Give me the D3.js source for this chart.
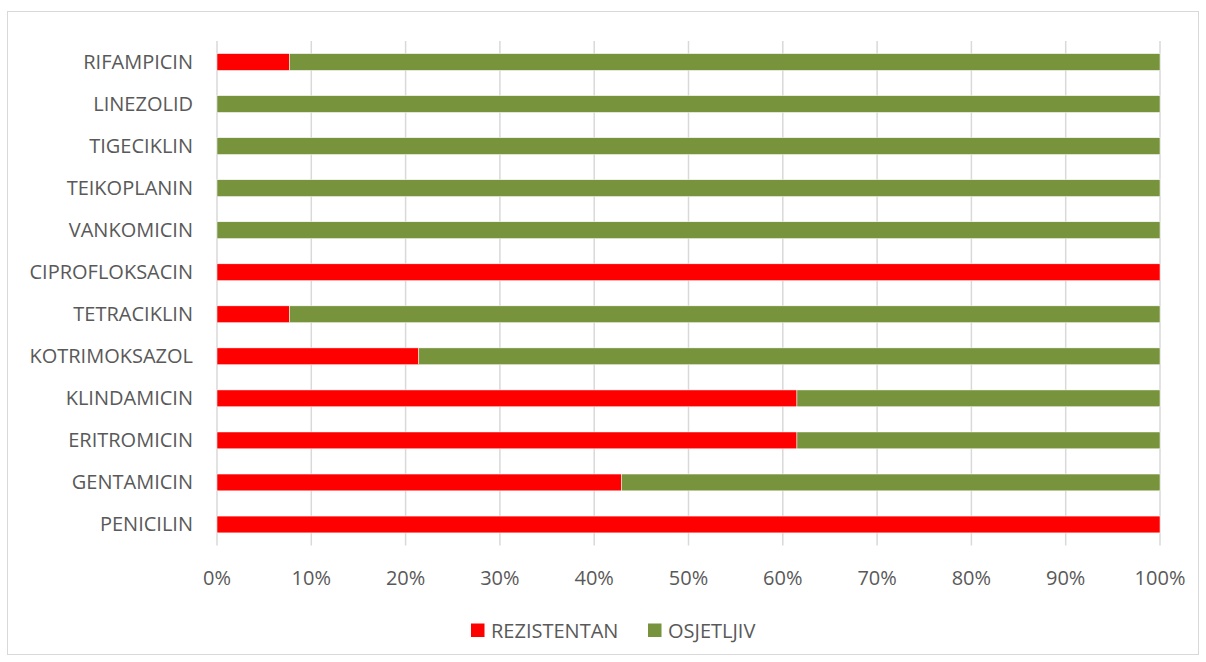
<!DOCTYPE html>
<html><head><meta charset="utf-8">
<script src="https://cdn.jsdelivr.net/npm/d3@7"></script>
<style>body{margin:0;background:#fff;} text{font-family:"Open Sans","Noto Sans",sans-serif;fill:#595959;}</style>
</head><body>
<svg id="c" width="1206" height="662"></svg>
<script>
const categories = ["RIFAMPICIN","LINEZOLID","TIGECIKLIN","TEIKOPLANIN","VANKOMICIN","CIPROFLOKSACIN","TETRACIKLIN","KOTRIMOKSAZOL","KLINDAMICIN","ERITROMICIN","GENTAMICIN","PENICILIN"];
const rezistentan = [7.7,0,0,0,0,100,7.7,21.4,61.5,61.5,42.9,100];
const osjetljiv = [92.3,100,100,100,100,0,92.3,78.6,38.5,38.5,57.1,0];
const seriesNames = ["REZISTENTAN","OSJETLJIV"];
const colors = ["#FF0000","#77933C"];
const ticks = [0,10,20,30,40,50,60,70,80,90,100];

const svg = d3.select("#c");
svg.append("rect").attr("x",7.5).attr("y",11.5).attr("width",1191).attr("height",643)
  .attr("fill","#fff").attr("stroke","#d9d9d9");

const x = d3.scaleLinear().domain([0,100]).range([217,1160]);
const y = d3.scaleBand().domain(categories).range([41,545.5]).paddingInner(0.6).paddingOuter(0.3);

svg.append("g").selectAll("line").data(ticks).join("line")
  .attr("x1",d=>x(d)).attr("x2",d=>x(d)).attr("y1",41).attr("y2",545.5)
  .attr("stroke","#d9d9d9").attr("stroke-width",1.5);

const data = categories.map((c,i)=>({cat:c, v:[rezistentan[i], osjetljiv[i]]}));
const g = svg.append("g");
data.forEach(d=>{
  let acc=0;
  d.v.forEach((v,k)=>{
    if(v>0){
      g.append("rect").attr("x",x(acc)).attr("width",x(acc+v)-x(acc))
        .attr("y",y(d.cat)).attr("height",y.bandwidth())
        .attr("fill",colors[k]).attr("stroke","#fff").attr("stroke-width",0.5);
    }
    acc+=v;
  });
});

svg.append("g").selectAll("text").data(categories).join("text")
  .attr("x",193).attr("y",d=>y(d)+y.bandwidth()/2).attr("dy","0.35em")
  .attr("text-anchor","end").attr("font-size",20).text(d=>d);

svg.append("g").selectAll("text").data(ticks).join("text")
  .attr("x",d=>x(d)).attr("y",578).attr("dy","0.35em")
  .attr("text-anchor","middle").attr("font-size",20).text(d=>d+"%");

const lx=[471,648];
seriesNames.forEach((n,i)=>{
  svg.append("rect").attr("x",lx[i]).attr("y",623.5).attr("width",13.5).attr("height",13.5).attr("fill",colors[i]);
  svg.append("text").attr("x",lx[i]+20).attr("y",631).attr("dy","0.35em").attr("font-size",20).text(n);
});
</script>
</body></html>
